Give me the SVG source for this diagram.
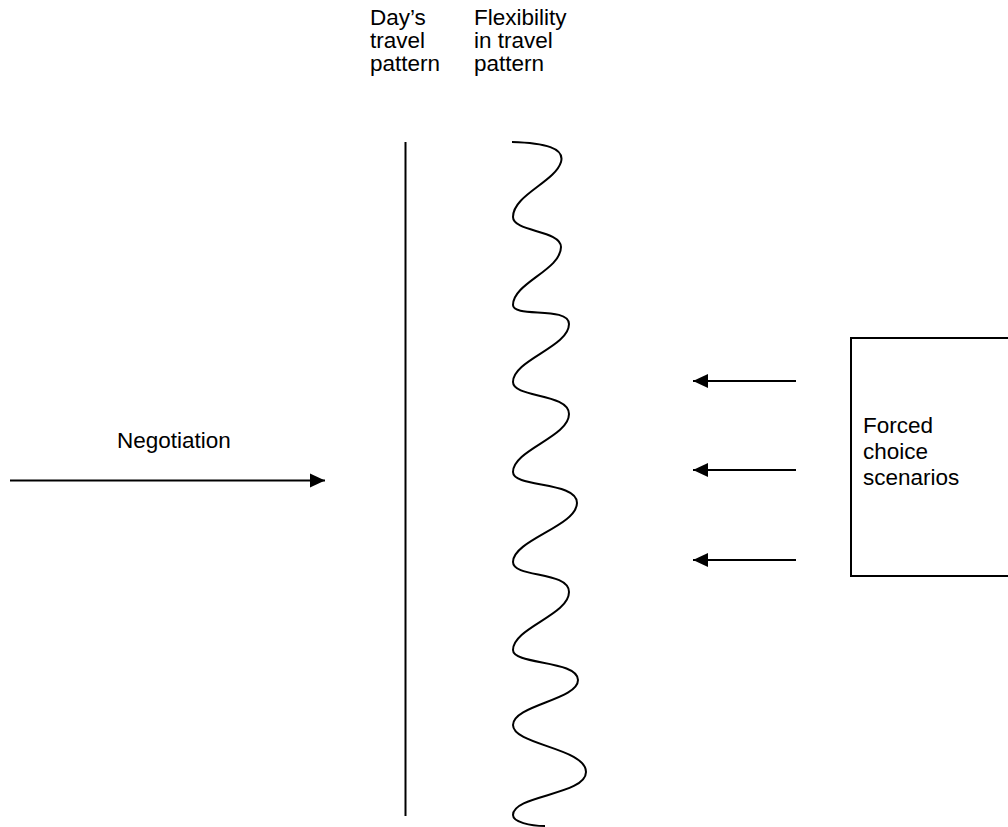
<svg xmlns="http://www.w3.org/2000/svg" width="1008" height="827" viewBox="0 0 1008 827">
<style>
text{font-family:"Liberation Sans",Arial,sans-serif;font-size:22.5px;fill:#000}
.ln{stroke:#000;stroke-width:2;fill:none}
</style>
<defs>
<marker id="ah" markerWidth="16" markerHeight="16" refX="15" refY="8" orient="auto" markerUnits="userSpaceOnUse"><path d="M0,1 L15,8 L0,15 Z" fill="#000"/></marker>
</defs>
<rect width="1008" height="827" fill="#fff"/>
<g id="day-label"><text x="370" y="25">Day’s</text><text x="370" y="48">travel</text><text x="370" y="71">pattern</text></g>
<g id="flex-label"><text x="474" y="25">Flexibility</text><text x="474" y="48">in travel</text><text x="474" y="71">pattern</text></g>
<g id="day-line"><line class="ln" x1="405.5" y1="142" x2="405.5" y2="816"/></g>
<g id="flex-wave"><path class="ln" d="M512,142 C545,143 565,148 561,162 C555,182 513,195 513,217 C513,232 561,230 561,247 C561,270 513,283 513,305 C513,318 569,306 569,324 C569,347 513,360 513,382 C513,398 569,393 569,414 C569,437 513,450 513,472 C513,488 577,481 577,503 C577,526 513,540 513,562 C513,578 569,571 569,592 C569,615 513,628 513,650 C513,665 578,660 578,680 C578,700 513,705 513,725 C513,745 586,748 586,772 C586,795 513,795 513,815 C513,822 530,826 545,826"/></g>
<g id="negotiation"><text x="117" y="448">Negotiation</text></g>
<g id="forced"><rect x="851" y="338" width="170" height="238" class="ln" stroke-width="1.5"/><text x="863" y="433">Forced</text><text x="863" y="459">choice</text><text x="863" y="485">scenarios</text></g>
<g id="connectors">
<line class="ln" x1="10" y1="480.5" x2="325" y2="480.5" marker-end="url(#ah)" stroke-width="1.5"/>
<line class="ln" x1="796" y1="381" x2="693" y2="381" marker-end="url(#ah)" stroke-width="1.5"/>
<line class="ln" x1="796" y1="470" x2="693" y2="470" marker-end="url(#ah)" stroke-width="1.5"/>
<line class="ln" x1="796" y1="560" x2="693" y2="560" marker-end="url(#ah)" stroke-width="1.5"/>
</g>
</svg>
